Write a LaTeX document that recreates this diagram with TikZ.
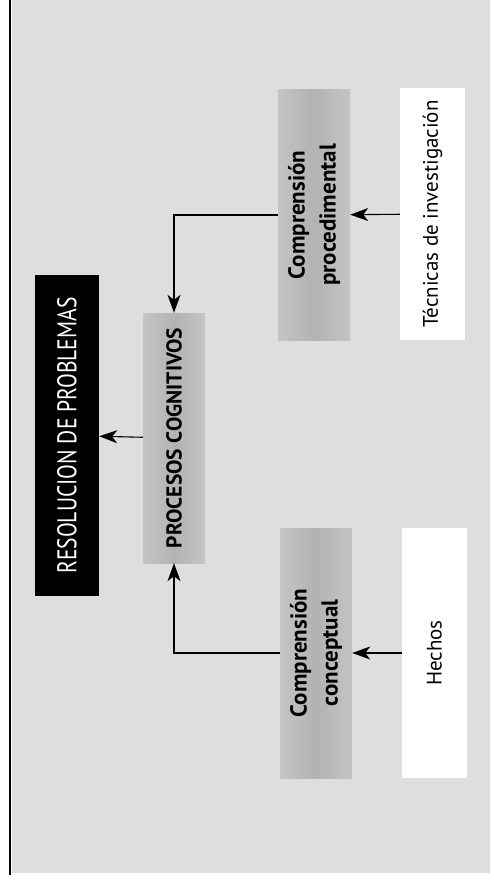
\documentclass[tikz,border=0pt]{standalone}
\usepackage{fontspec}
\setmainfont{PT Sans}
\newfontfamily\estrecha[FakeStretch=0.8]{PT Sans}
\usetikzlibrary{arrows.meta}

\definecolor{panelgris}{gray}{0.87}
\definecolor{cajagris}{gray}{0.77}
\definecolor{cajaoscura}{gray}{0.70}

\tikzset{
  flecha/.style={draw=black, line width=1.1pt, -{Stealth[length=18pt,width=13pt,inset=5pt]}},
  negro/.style={fill=black, text=white, inner sep=0pt},
  gris/.style={left color=cajagris, right color=cajagris, middle color=cajaoscura, inner sep=0pt},
  blanco/.style={fill=white, inner sep=0pt}
}

\begin{document}
\begin{tikzpicture}[x=1pt, y=-1pt]
    \useasboundingbox (0,0) rectangle (493,885);

    % 1. FONDO GRIS Y LINEA IZQUIERDA
    \fill[panelgris] (12,0) rectangle (490,873);
    \draw[line width=2pt] (10,0) -- (10,875);

    % 2. CAJAS (el texto va girado)
    \node[negro, minimum width=64pt, minimum height=321pt] (res) at (67,435.5)
        {\rotatebox{90}{\estrecha\fontsize{27}{30}\selectfont RESOLUCION DE PROBLEMAS}};
    \node[gris, minimum width=62pt, minimum height=250pt] (cog) at (174,438)
        {\rotatebox{90}{\bfseries\fontsize{21.5}{26}\selectfont PROCESOS COGNITIVOS}};
    \node[gris, minimum width=72pt, minimum height=250pt] (proc) at (314,215)
        {\rotatebox{90}{\bfseries\fontsize{23}{31}\selectfont
         \begin{tabular}{@{}c@{}}Comprensión\\procedimental\end{tabular}}};
    \node[gris, minimum width=72pt, minimum height=250pt] (conc) at (316,653)
        {\rotatebox{90}{\bfseries\fontsize{23}{31}\selectfont
         \begin{tabular}{@{}c@{}}Comprensión\\conceptual\end{tabular}}};
    \node[blanco, minimum width=65pt, minimum height=252pt] (tec) at (432.5,214)
        {\rotatebox{90}{\fontsize{21}{24}\selectfont Técnicas de investigación}};
    \node[blanco, minimum width=65pt, minimum height=250pt] (hech) at (434.5,653)
        {\rotatebox{90}{\fontsize{21}{24}\selectfont Hechos}};

    % 3. FLECHAS
    \draw[flecha] (tec) -- (proc);
    \draw[flecha] (hech) -- (conc);
    \draw[flecha] (proc.west) -| (cog.north);
    \draw[flecha] (conc.west) -| (cog.south);
    \draw[flecha] (cog) -- (res);

\end{tikzpicture}
\end{document}
